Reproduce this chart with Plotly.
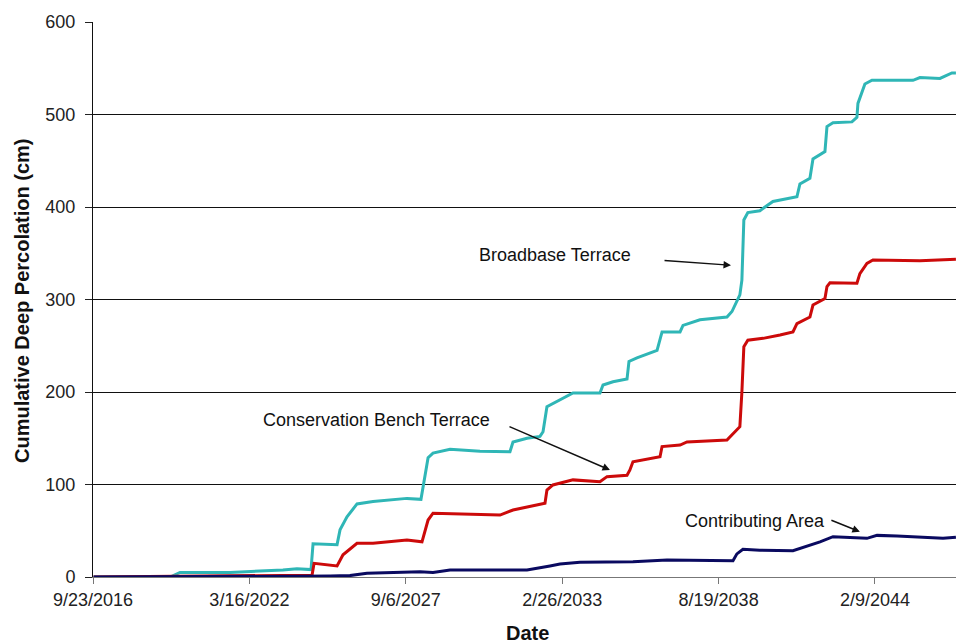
import plotly.graph_objects as go

# ---- data ----
broadbase_dates = [
    "2016-10-01", "2019-06-05", "2019-10-11", "2021-07-12", "2023-05-19", "2023-11-14",
    "2024-05-12", "2024-06-07", "2025-04-10", "2025-05-18", "2025-08-15", "2025-12-21",
    "2026-07-14", "2027-09-21", "2028-03-18", "2028-04-26", "2028-06-17", "2028-08-19",
    "2029-03-25", "2030-04-12", "2031-04-30", "2031-06-08", "2031-12-04", "2032-05-18",
    "2032-06-26", "2032-08-15", "2032-12-21", "2033-07-14", "2034-06-24", "2034-08-02",
    "2034-12-08", "2035-06-05", "2035-06-30", "2035-10-10", "2036-06-23", "2036-08-26",
    "2037-04-13", "2037-05-21", "2037-12-24", "2038-12-04", "2039-02-06", "2039-05-18",
    "2039-06-13", "2039-07-08", "2039-08-28", "2040-01-29", "2040-07-14", "2041-05-17",
    "2041-06-24", "2041-10-30", "2041-12-08", "2042-05-10", "2042-06-05", "2042-08-21",
    "2043-04-20", "2043-06-23", "2043-07-06", "2043-10-03", "2044-01-01", "2045-06-09",
    "2045-09-06", "2046-05-20", "2046-10-20", "2046-12-10",
]
broadbase_vals = [
    0, 0, 5, 5, 7.5, 9,
    8, 36, 35, 51, 65, 79,
    81.5, 85, 84, 105, 129, 134,
    138, 136, 135.5, 146, 150, 152,
    157, 184, 189.5, 199, 199, 207.6,
    211, 214, 233, 237, 245, 265,
    265, 272, 278, 281, 287, 305,
    321, 386, 394, 396, 406, 411,
    425, 431, 452, 460, 487, 491,
    492, 497, 512, 533, 537, 537,
    540, 539, 545, 545,
]

bench_dates = [
    "2016-10-01", "2020-06-23", "2024-05-25", "2024-06-20", "2025-04-10", "2025-06-25",
    "2025-12-21", "2026-07-14", "2027-09-21", "2028-03-31", "2028-06-17", "2028-08-19",
    "2030-04-12", "2030-12-24", "2031-06-08", "2032-04-10", "2032-07-21", "2032-08-15",
    "2032-10-31", "2033-07-14", "2034-06-24", "2034-09-22", "2035-06-05", "2035-07-12",
    "2035-08-20", "2036-07-31", "2036-08-26", "2037-04-13", "2037-07-11", "2038-12-04",
    "2039-02-19", "2039-05-18", "2039-06-13", "2039-07-08", "2039-08-28", "2040-03-10",
    "2040-10-13", "2041-03-27", "2041-05-17", "2041-10-30", "2041-12-08", "2042-05-10",
    "2042-06-05", "2042-07-13", "2043-06-23", "2043-07-31", "2043-10-29", "2044-01-14",
    "2045-09-06", "2046-12-10",
]
bench_vals = [
    0, 1, 2, 14.8, 12, 24,
    36.4, 36.4, 40, 38, 61.6, 69,
    68, 67, 72.4, 78, 79.7, 94,
    99.5, 105, 103, 108.5, 110, 115.7,
    124.6, 130, 141, 142.7, 146, 148,
    155, 162.5, 200, 249, 256, 258,
    261.6, 265, 274, 281, 294, 301,
    314, 318, 317.5, 328, 339, 342.7,
    342, 343.5,
]

contrib_dates = [
    "2016-10-01", "2023-12-23", "2025-01-10", "2025-09-22", "2026-04-27", "2028-03-06",
    "2028-08-19", "2029-03-25", "2031-12-04", "2032-09-23", "2033-01-29", "2033-10-11",
    "2035-08-20", "2036-10-29", "2039-02-19", "2039-04-10", "2039-06-26", "2040-01-29",
    "2041-03-27", "2042-03-08", "2042-08-21", "2043-10-29", "2044-03-06", "2044-11-17",
    "2046-06-28", "2046-12-10",
]
contrib_vals = [
    0, 0.5, 1, 1.5, 4, 5.7,
    5, 7.6, 7.6, 12, 14, 16,
    16.6, 18.4, 17.5, 25, 30, 29,
    28.5, 38, 43.6, 41.8, 45, 44.3,
    41.8, 43,
]

x_tick_vals = ["2016-09-23", "2022-03-16", "2027-09-06", "2033-02-26", "2038-08-19", "2044-02-09"]
x_tick_text = ["9/23/2016", "3/16/2022", "9/6/2027", "2/26/2033", "8/19/2038", "2/9/2044"]
y_tick_vals = [0, 100, 200, 300, 400, 500, 600]

FONT = "Liberation Sans, Arial, sans-serif"

fig = go.Figure()
fig.add_trace(go.Scatter(x=broadbase_dates, y=broadbase_vals, mode="lines",
                         name="Broadbase Terrace", line=dict(color="#2FB6B6", width=3)))
fig.add_trace(go.Scatter(x=bench_dates, y=bench_vals, mode="lines",
                         name="Conservation Bench Terrace", line=dict(color="#CC0A0A", width=3)))
fig.add_trace(go.Scatter(x=contrib_dates, y=contrib_vals, mode="lines",
                         name="Contributing Area", line=dict(color="#0A0A60", width=3)))

fig.update_layout(
    width=956, height=643,
    margin=dict(l=93, r=0, t=22, b=66),
    paper_bgcolor="white", plot_bgcolor="white",
    showlegend=False,
    font=dict(family=FONT, size=18, color="#222"),
)

fig.update_xaxes(
    type="date",
    range=["2016-09-23", "2046-12-11"],
    tickmode="array", tickvals=x_tick_vals, ticktext=x_tick_text,
    ticks="outside", ticklen=6, tickcolor="#777", tickwidth=1,
    showgrid=False, zeroline=False,
    showline=True, linecolor="#777", linewidth=1,
    tickfont=dict(size=18, color="#222"),
)
fig.update_yaxes(
    range=[0, 600],
    tickmode="array", tickvals=y_tick_vals,
    ticks="outside", ticklen=7, tickcolor="#222", tickwidth=1,
    showgrid=True, gridcolor="#111", gridwidth=1,
    zeroline=False,
    showline=True, linecolor="#111", linewidth=1,
    tickfont=dict(size=18, color="#222"),
    ticklabelstandoff=6,
)

annos = [
    # axis titles
    dict(text="<b>Cumulative Deep Percolation (cm)</b>", xref="paper", yref="paper",
         x=-0.0823, y=0.499, textangle=-90, showarrow=False,
         font=dict(size=20, color="#111"), xanchor="center", yanchor="middle"),
    dict(text="<b>Date</b>", xref="paper", yref="paper", x=0.503, y=-0.1009,
         showarrow=False, font=dict(size=20, color="#111"), xanchor="center", yanchor="middle"),
    # series labels
    dict(text="Broadbase Terrace", x="2032-11-26", y=348, xref="x", yref="y",
         showarrow=False, font=dict(size=18, color="#111")),
    dict(text="Conservation Bench Terrace", x="2026-08-22", y=169.7, xref="x", yref="y",
         showarrow=False, font=dict(size=18, color="#111")),
    dict(text="Contributing Area", x="2039-11-27", y=60.5, xref="x", yref="y",
         showarrow=False, font=dict(size=18, color="#111")),
    # arrows
    dict(text="", x="2039-01-25", y=337, xref="x", yref="y", ax=-68, ay=-5,
         showarrow=True, arrowhead=2, arrowsize=1, arrowwidth=1.5, arrowcolor="#111"),
    dict(text="", x="2034-10-30", y=115.7, xref="x", yref="y", ax=-102, ay=-44,
         showarrow=True, arrowhead=2, arrowsize=1, arrowwidth=1.5, arrowcolor="#111"),
    dict(text="", x="2043-07-31", y=49, xref="x", yref="y", ax=-30, ay=-12,
         showarrow=True, arrowhead=2, arrowsize=1, arrowwidth=1.5, arrowcolor="#111"),
]
fig.update_layout(annotations=annos)

fig.write_html(
    "out.html",
    config={"displayModeBar": False},
    post_script="document.body.style.margin='0';document.body.style.overflow='hidden';",
)
